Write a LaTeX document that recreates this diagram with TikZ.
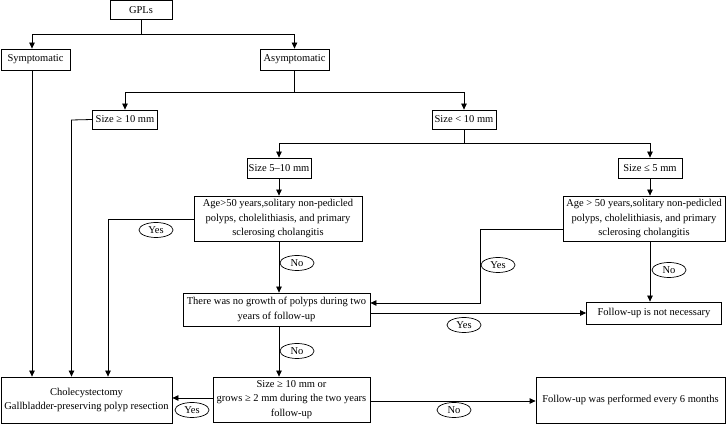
\documentclass[tikz,border=0pt]{standalone}
\usepackage{fontspec}
\setmainfont{Liberation Serif}
\usetikzlibrary{arrows.meta,shapes.geometric}
\begin{document}
\begin{tikzpicture}[x=1pt,y=-1pt,
 box/.style={draw,line width=0.8pt,inner sep=0pt,align=center,font=\fontsize{10.5}{14.5}\selectfont},
 lab/.style={draw,ellipse,line width=0.7pt,inner sep=0pt,minimum width=34pt,minimum height=15pt,font=\fontsize{10.5}{12}\selectfont,fill=white},
 arr/.style={line width=0.8pt,-{Triangle[length=6pt,width=5.5pt]}},
 ln/.style={line width=0.8pt}]
\useasboundingbox (0,0) rectangle (726,427);
% boxes
\node[box,minimum width=62pt,minimum height=19pt] (gpl) at (141,10) {GPLs};
\node[box,minimum width=69pt,minimum height=21pt] (sym) at (35.5,59.5) {Symptomatic};
\node[box,minimum width=69pt,minimum height=21pt] (asym) at (294.5,59.5) {Asymptomatic};
\node[box,minimum width=65pt,minimum height=19pt] (s10) at (125,119.5) {Size ≥ 10 mm};
\node[box,minimum width=64pt,minimum height=19pt] (sl10) at (464,119.5) {Size < 10 mm};
\node[box,minimum width=64pt,minimum height=20pt] (s510) at (279,168) {Size 5–10 mm};
\node[box,minimum width=64pt,minimum height=20pt] (s5) at (650,168) {Size ≤ 5 mm};
\node[box,minimum width=168pt,minimum height=45pt] (ageL) at (278,218.5) {Age>50 years,solitary non-pedicled\\polyps, cholelithiasis, and primary\\sclerosing cholangitis};
\node[box,minimum width=162pt,minimum height=45pt] (ageR) at (644,218.5) {Age > 50 years,solitary non-pedicled\\polyps, cholelithiasis, and primary\\sclerosing cholangitis};
\node[box,minimum width=187pt,minimum height=33pt] (nog) at (276.5,309.5) {There was no growth of polyps during two\\years of follow-up};
\node[box,minimum width=135pt,minimum height=22pt] (fnn) at (654,313) {Follow-up is not necessary};
\node[box,minimum width=157pt,minimum height=45pt] (s10or) at (291.5,399.5) {Size ≥ 10 mm or\\grows ≥ 2 mm during the two years\\follow-up};
\node[box,minimum width=171pt,minimum height=46pt] (chole) at (86.5,400) {Cholecystectomy\\Gallbladder-preserving polyp resection};
\node[box,minimum width=189pt,minimum height=46pt] (f6) at (630.5,400) {Follow-up was performed every 6 months};
% junction coordinates
\coordinate (j1) at (141,34);
\coordinate (a1) at (32,34);
\coordinate (j2) at (294.5,92);
\coordinate (c1) at (71.5,120);
\coordinate (j3) at (464,143);
\coordinate (c2) at (108,219);
\coordinate (c3) at (480,229);
\coordinate (c4) at (480,303);
\coordinate (c5) at (370,313);
\coordinate (c6) at (213,398);
\coordinate (c7) at (370,401);
% connectors
\draw[ln] (gpl.south) -- (j1);
\draw[arr] (j1) -- (a1) -- (a1 |- sym.north);
\draw[arr] (j1) -| (asym.north);
\draw[ln] (asym.south) -- (j2);
\draw[arr] (j2) -| (s10.north);
\draw[arr] (j2) -| (sl10.north);
\draw[arr] (s10.west) -- (c1) -- (c1 |- chole.north);
\draw[arr] (a1 |- sym.south) -- (a1 |- chole.north);
\draw[ln] (sl10.south) -- (j3);
\draw[arr] (j3) -| (s510.north);
\draw[arr] (j3) -| (s5.north);
\draw[arr] (s510.south) -- (s510.south |- ageL.north);
\draw[arr] (s5.south) -- (s5.south |- ageR.north);
\draw[arr] (ageL.west |- c2) -- (c2) -- (c2 |- chole.north);
\draw[arr] (s510.south |- ageL.south) -- (s510.south |- nog.north);
\draw[arr] (ageR.west |- c3) -- (c3) -- (c4) -- (nog.east |- c4);
\draw[arr] (s5.south |- ageR.south) -- (s5.south |- fnn.north);
\draw[arr] (nog.east |- c5) -- (fnn.west |- c5);
\draw[arr] (s510.south |- nog.south) -- (s510.south |- s10or.north);
\draw[arr] (s10or.west |- c6) -- (chole.east |- c6);
\draw[arr] (s10or.east |- c7) -- (f6.west |- c7);
% labels
\node[lab] (y1) at (156,230) {Yes};
\node[lab] (n1) at (297,263) {No};
\node[lab] (y2) at (498,265) {Yes};
\node[lab] (n2) at (669,270) {No};
\node[lab] (y3) at (464,325) {Yes};
\node[lab] (n3) at (297,351) {No};
\node[lab] (y4) at (192,410) {Yes};
\node[lab] (n4) at (454,410) {No};
\end{tikzpicture}
\end{document}
